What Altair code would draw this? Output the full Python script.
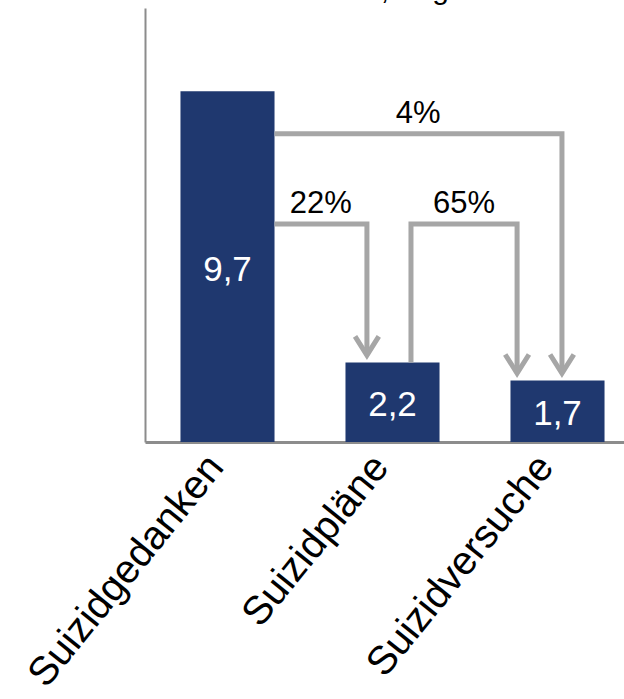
import json
import altair as alt
import pandas as pd

# ---------------- data ----------------
categories = ["Suizidgedanken", "Suizidpläne", "Suizidversuche"]
values = [9.7, 2.2, 1.7]
transition_labels = ["22%", "65%", "4%"]
transition_from = [0, 1, 0]
transition_to = [1, 2, 2]
title_text = "Lebenszeit, Angaben in %"

# ---------------- layout constants ----------------
HALF = 0.285                      # half bar width (x units)
arrow_start_x = [0 + HALF, 1.112, 0 + HALF]
arrow_level = [6.03, 6.03, 8.52]
arrow_end_x = [0.845, 1.755, 2.027]
TIP_GAP = 0.2
HEAD_DX = 0.072
HEAD_DY = 0.52

FONT = "Liberation Sans"
BAR_COLOR = "#1f386f"
ARROW_COLOR = "#a6a6a6"
AXIS_COLOR = "#8c8c8c"

xscale = alt.Scale(domain=[-0.5, 2.403], nice=False, zero=False)
yscale = alt.Scale(domain=[0, 12], nice=False, zero=False)

label_expr = json.dumps(categories) + "[round(datum.value)]"
xaxis = alt.Axis(values=[0, 1, 2], labelExpr=label_expr, ticks=False, grid=False, title=None,
                 domainColor=AXIS_COLOR, domainWidth=3, labelAngle=-51,
                 labelFontSize=40, labelFont=FONT, labelColor="black",
                 labelAlign="right", labelBaseline="middle", labelPadding=18,
                 labelOffset=-12,
                 labelOverlap=False, labelFlush=False, labelBound=False, labelLimit=0)
yaxis = alt.Axis(labels=False, ticks=False, grid=False, title=None,
                 domainColor=AXIS_COLOR, domainWidth=2)

bars = pd.DataFrame({"idx": list(range(len(categories))), "cat": categories, "value": values})
bars["x0"] = bars["idx"] - HALF
bars["x1"] = bars["idx"] + HALF
bars["label"] = bars["value"].map(lambda v: f"{v:.1f}".replace(".", ","))
bars["mid"] = bars["value"] / 2

# arrow paths built from the transitions
path_rows, head_rows, lab_rows = [], [], []
for i, (lab, f, t) in enumerate(zip(transition_labels, transition_from, transition_to)):
    sx, lvl, ex = arrow_start_x[i], arrow_level[i], arrow_end_x[i]
    tip = values[t] + TIP_GAP
    pts = []
    if values[f] < lvl:
        pts.append((sx, values[f]))
    pts += [(sx, lvl), (ex, lvl), (ex, tip)]
    for k, (px, py) in enumerate(pts):
        path_rows.append({"g": i, "o": k, "x": px, "y": py})
    for k, (px, py) in enumerate([(ex - HEAD_DX, tip + HEAD_DY), (ex, tip), (ex + HEAD_DX, tip + HEAD_DY)]):
        head_rows.append({"g": i, "o": k, "x": px, "y": py})
    lab_rows.append({"x": (sx + ex) / 2, "y": lvl, "label": lab})

paths = pd.DataFrame(path_rows)
heads = pd.DataFrame(head_rows)
labs = pd.DataFrame(lab_rows)

bar_layer = alt.Chart(bars).mark_rect(color=BAR_COLOR).encode(
    x=alt.X("x0:Q", scale=xscale, axis=xaxis),
    x2="x1:Q",
    y=alt.Y("value:Q", scale=yscale, axis=yaxis),
    y2=alt.datum(0),
)

value_text = alt.Chart(bars).mark_text(color="white", fontSize=35, font=FONT,
                                       baseline="middle", align="center", dy=3).encode(
    x=alt.X("idx:Q", scale=xscale, axis=xaxis),
    y=alt.Y("mid:Q", scale=yscale, axis=yaxis),
    text="label:N",
)

arrow_lines = alt.Chart(paths).mark_line(color=ARROW_COLOR, strokeWidth=5,
                                         strokeJoin="miter", strokeCap="butt").encode(
    x=alt.X("x:Q", scale=xscale, axis=xaxis),
    y=alt.Y("y:Q", scale=yscale, axis=yaxis),
    detail="g:N",
    order="o:Q",
)

arrow_heads = alt.Chart(heads).mark_line(color=ARROW_COLOR, strokeWidth=5,
                                         strokeJoin="miter", strokeCap="butt").encode(
    x=alt.X("x:Q", scale=xscale, axis=xaxis),
    y=alt.Y("y:Q", scale=yscale, axis=yaxis),
    detail="g:N",
    order="o:Q",
)

pct_text = alt.Chart(labs).mark_text(color="black", fontSize=31, font=FONT,
                                     baseline="middle", align="center", dy=-20).encode(
    x=alt.X("x:Q", scale=xscale, axis=xaxis),
    y=alt.Y("y:Q", scale=yscale, axis=yaxis),
    text="label:N",
)

title_layer = alt.Chart(pd.DataFrame({"t": [title_text]})).mark_text(
    color="black", fontSize=30, font=FONT, baseline="alphabetic", align="center").encode(
    x=alt.value(264), y=alt.value(-9), text="t:N")

chart = alt.layer(bar_layer, value_text, arrow_lines, arrow_heads, pct_text, title_layer).properties(
    width=479, height=434,
    autosize=alt.AutoSizeParams(type="none"),
    padding={"left": 145, "top": 8, "right": 0, "bottom": 257},
    background="white",
).configure_view(stroke=None)

chart.save("out.html", embed_options={"renderer": "svg", "actions": False})
